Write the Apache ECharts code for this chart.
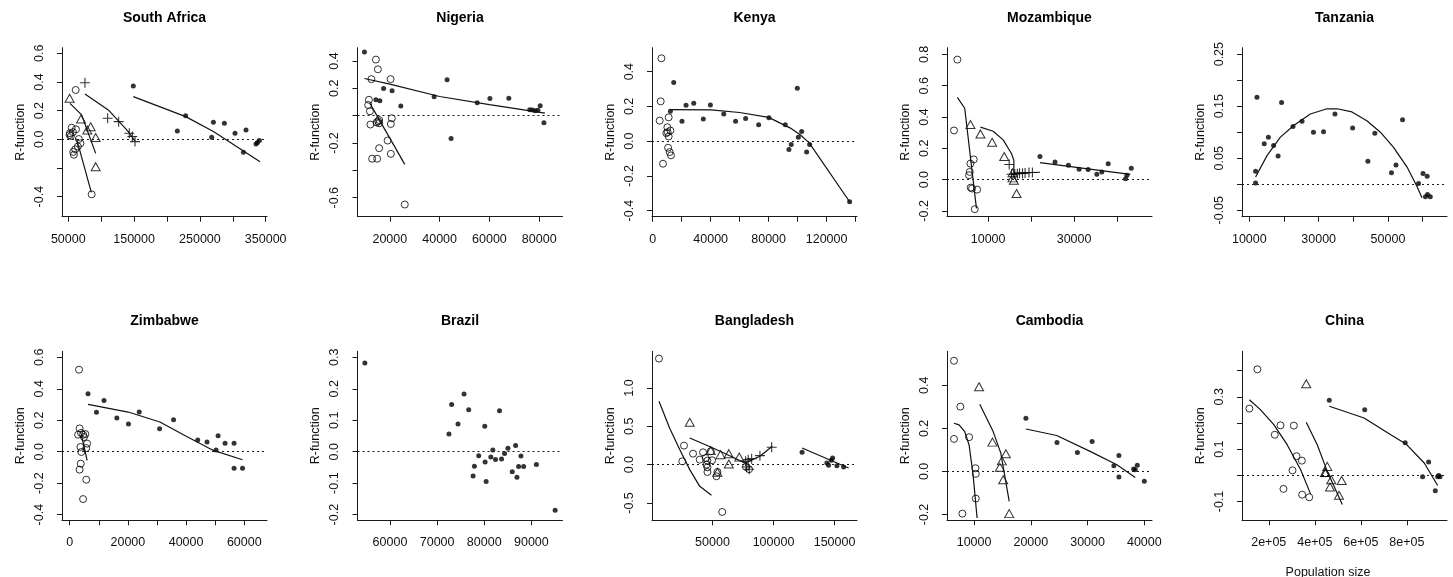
<!DOCTYPE html>
<html>
<head>
<meta charset="utf-8">
<script src="https://cdn.jsdelivr.net/npm/echarts@6/dist/echarts.min.js"></script>
<style>
html,body{margin:0;padding:0;background:#fff;}
#chart{width:1453px;height:577px;}
</style>
</head>
<body>
<div id="chart"></div>
<script>
// R-function against population size, one panel per country
// filled = dots, open = circles, tri = triangles, plus = crosses, *Line = fitted curves

// South Africa
var saFilled = [[148800,0.372],[215700,0.058],[228400,0.165],[267900,0.014],[270500,0.119],[287200,0.112],[303400,0.042],[316100,-0.091],[320100,0.065],[335300,-0.033],[337400,-0.023],[340400,-0.009]];
var saFilledLine = [[148800,0.298],[228400,0.158],[270500,0.055],[341400,-0.156]];
var saOpen = [[61200,0.344],[55100,0.081],[61700,0.070],[52500,0.042],[54000,0.023],[52000,0.030],[57000,0.050],[66000,0.002],[68500,-0.028],[64500,-0.050],[60500,-0.070],[57500,-0.088],[58500,-0.108],[85500,-0.384]];
var saOpenLine = [[62500,0.005],[85000,-0.370]];
var saTri = [[52000,0.286],[69300,0.142],[84000,0.088],[78900,0.065],[91600,0.012],[91600,-0.191]];
var saTriLine = [[52500,0.251],[70300,0.170],[91600,-0.098]];
var saPlus = [[75300,0.395],[109800,0.147],[126500,0.123],[142700,0.042],[147300,0.019],[151400,-0.016]];
var saPlusLine = [[75300,0.316],[110800,0.205],[141200,0.053],[151400,-0.012]];

// Nigeria
var ngFilled = [[9800,0.465],[17500,0.199],[20900,0.182],[14400,0.116],[16000,0.109],[24400,0.070],[37800,0.138],[43000,0.262],[44600,-0.167],[55100,0.095],[60200,0.126],[67800,0.128],[76200,0.044],[77300,0.041],[78400,0.036],[79500,0.039],[80400,0.073],[81900,-0.051]];
var ngFilledLine = [[9800,0.272],[20000,0.230],[40000,0.140],[60000,0.080],[82300,0.019]];
var ngOpen = [[14400,0.410],[15200,0.339],[12600,0.267],[20300,0.267],[11600,0.116],[11300,0.078],[12000,0.032],[12200,-0.065],[20800,-0.019],[20400,-0.061],[15700,-0.032],[15300,-0.041],[15700,-0.056],[14700,-0.050],[19100,-0.182],[15700,-0.238],[20400,-0.279],[12900,-0.315],[14900,-0.315],[26000,-0.650]];
var ngOpenLine = [[12000,0.090],[26000,-0.356]];

// Kenya
var keFilled = [[14500,0.338],[12200,0.172],[20200,0.115],[23000,0.206],[28300,0.218],[34900,0.128],[39800,0.208],[49000,0.157],[57200,0.115],[64100,0.130],[73100,0.094],[80200,0.134],[91500,0.094],[94000,-0.048],[95600,-0.019],[99800,0.305],[100500,0.023],[102800,0.055],[106200,-0.063],[108300,-0.019],[135900,-0.349]];
var keFilledLine = [[12200,0.181],[40000,0.180],[60000,0.165],[80000,0.137],[95000,0.075],[102000,0.035],[108000,-0.010],[135900,-0.349]];
var keOpen = [[6000,0.477],[5500,0.229],[4800,0.118],[7100,-0.130],[11000,0.137],[10100,0.080],[9400,0.046],[10300,0.052],[12200,0.061],[11000,0.027],[10600,-0.038],[11700,-0.063],[12600,-0.082]];

// Mozambique
var mzFilled = [[22060,0.148],[25560,0.112],[28680,0.091],[31170,0.066],[33270,0.064],[35290,0.034],[36460,0.049],[37940,0.102],[41980,0.006],[42300,0.028],[43310,0.072]];
var mzFilledLine = [[22060,0.108],[43070,0.034]];
var mzOpen = [[2840,0.767],[2060,0.314],[5880,0.102],[5720,0.049],[5560,0.028],[6650,0.129],[5950,-0.051],[6270,-0.057],[7430,-0.064],[6890,-0.189]];
var mzOpenLine = [[2840,0.525],[4550,0.456],[7280,-0.184]];
var mzTri = [[5880,0.352],[8210,0.292],[10930,0.239],[13740,0.148],[15680,0.044],[15990,-0.004],[15680,0.011],[16620,-0.089]];
var mzTriLine = [[8210,0.335],[11170,0.309],[13500,0.254],[15450,0.165],[15990,0.123],[15990,0.030]];
var mzPlus = [[14900,0.097],[15450,0.034],[16200,0.036],[16800,0.038],[17300,0.040],[18000,0.040],[18600,0.042],[19500,0.045],[20300,0.045]];
var mzPlusLine = [[15990,0.042],[22060,0.047]];

// Tanzania
var tzFilled = [[12200,0.167],[11800,0.0248],[11800,0.0025],[14300,0.0777],[15500,0.0904],[17000,0.0745],[18300,0.0541],[19300,0.157],[22600,0.111],[25200,0.121],[28500,0.100],[31400,0.101],[34700,0.135],[39800,0.108],[44200,0.044],[46200,0.098],[51000,0.0223],[52300,0.037],[54200,0.124],[58800,0.0013],[60100,0.0204],[60800,-0.0242],[61300,0.0153],[61400,-0.0197],[62200,-0.0242]];
var tzFilledLine = [[11800,0.014],[15100,0.055],[18900,0.090],[22800,0.113],[27600,0.135],[32400,0.145],[35300,0.145],[39600,0.139],[43900,0.122],[47800,0.100],[51600,0.071],[55500,0.033],[58400,-0.005],[59800,-0.026]];

// Zimbabwe
var zwFilled = [[6300,0.369],[11800,0.326],[9200,0.250],[16200,0.214],[20200,0.176],[23900,0.252],[30900,0.146],[35700,0.203],[44000,0.074],[47200,0.061],[50300,0.011],[51000,0.102],[53400,0.053],[56500,0.053],[56500,-0.106],[59400,-0.106]];
var zwFilledLine = [[6300,0.301],[20100,0.252],[31000,0.189],[40200,0.097],[49400,0.008],[59400,-0.051]];
var zwOpen = [[3200,0.521],[3400,0.148],[2900,0.108],[3900,0.119],[4600,0.108],[5400,0.112],[4900,0.093],[3700,0.030],[6000,0.051],[5700,0.023],[4000,-0.002],[3800,-0.076],[3400,-0.114],[5700,-0.178],[4600,-0.301]];
var zwOpenLine = [[4000,0.108],[6000,-0.055]];

// Brazil
var brFilled = [[54670,0.282],[72510,0.056],[73080,0.150],[74430,0.088],[75710,0.183],[76700,0.133],[77630,-0.077],[77910,-0.046],[78830,-0.013],[80110,0.081],[80180,-0.033],[80400,-0.095],[81390,-0.017],[81820,0.005],[82390,-0.025],[83240,0.130],[83670,-0.023],[84310,-0.006],[85020,0.011],[85940,-0.064],[86650,0.020],[86940,-0.081],[87290,-0.047],[87790,-0.014],[88360,-0.047],[91060,-0.041],[95040,-0.186]];

// Bangladesh
var bdFilled = [[123400,0.161],[143700,0.022],[145100,-0.009],[147300,0.057],[148400,0.087],[151900,-0.013],[157400,-0.030]];
var bdFilledLine = [[123400,0.217],[161500,-0.043]];
var bdOpen = [[6200,1.383],[26700,0.248],[25300,0.043],[34100,0.143],[39600,0.065],[42300,0.161],[44500,0.087],[45900,0.052],[45100,0.000],[45900,-0.035],[45900,-0.096],[49700,0.057],[48600,0.174],[53300,-0.152],[54100,-0.096],[58000,-0.617],[77500,-0.030],[80000,-0.060]];
var bdOpenLine = [[6200,0.826],[14900,0.478],[23200,0.196],[31400,-0.065],[39600,-0.283],[49200,-0.400]];
var bdTri = [[31400,0.552],[48600,0.183],[56600,0.130],[63400,0.143],[63400,0.009],[71900,0.100],[54100,-0.100]];
var bdTriLine = [[31400,0.348],[50000,0.220],[65000,0.110],[78000,0.010]];
var bdPlus = [[77100,0.043],[79300,0.065],[82100,0.078],[88900,0.117],[98500,0.226],[78000,-0.030],[80100,-0.060]];
var bdPlusLine = [[76600,0.022],[88900,0.109],[99000,0.239]];

// Cambodia
var khFilled = [[19130,0.247],[24610,0.134],[28210,0.088],[30800,0.139],[34630,0.026],[35520,0.074],[35520,-0.026],[38110,0.011],[38410,0.008],[38760,0.029],[40000,-0.046]];
var khFilledLine = [[19130,0.197],[24560,0.167],[30450,0.093],[35160,0.031],[38410,-0.028]];
var khOpen = [[6460,0.514],[7580,0.301],[6460,0.151],[9120,0.159],[10240,0.015],[10300,-0.011],[10300,-0.126],[7940,-0.196]];
var khOpenLine = [[6460,0.224],[7350,0.216],[8350,0.185],[9120,0.123],[9820,-0.015],[10530,-0.216]];
var khTri = [[10880,0.393],[13240,0.136],[14890,0.049],[14540,0.019],[15600,0.082],[15130,-0.039],[16190,-0.196]];
var khTriLine = [[11000,0.312],[13360,0.185],[14710,0.085],[16190,-0.139]];

// China
var cnFilled = [[462900,0.287],[616800,0.251],[792600,0.124],[868100,-0.006],[894200,0.051],[923300,-0.059],[933500,-0.006],[937800,-0.001],[943600,-0.006]];
var cnFilledLine = [[462900,0.264],[613900,0.219],[730100,0.155],[795500,0.120],[875400,0.047],[933500,-0.039]];
var cnOpen = [[115800,0.255],[150600,0.405],[226100,0.155],[250800,0.191],[308900,0.190],[320600,0.073],[343800,0.056],[303100,0.019],[263900,-0.052],[345200,-0.074],[375700,-0.084]];
var cnOpenLine = [[115800,0.289],[163700,0.251],[221800,0.194],[279900,0.117],[338000,0.022],[381600,-0.071]];
var cnTri = [[362700,0.350],[454200,0.034],[444000,0.011],[448000,0.011],[471600,-0.017],[465800,-0.045],[516600,-0.020],[505000,-0.076]];
var cnTriLine = [[362700,0.203],[410600,0.117],[454200,0.015],[519500,-0.112]];

// tick positions and labelled ticks
var saXTicks = [50000,100000,150000,200000,250000,300000,350000], saXLabels = [50000,150000,250000,350000];
var saYTicks = [-0.4,-0.2,0,0.2,0.4,0.6], saYLabels = [-0.4,0,0.2,0.4,0.6];
var ngXTicks = [20000,40000,60000,80000], ngXLabels = [20000,40000,60000,80000];
var ngYTicks = [-0.6,-0.4,-0.2,0,0.2,0.4], ngYLabels = [-0.6,-0.2,0.2,0.4];
var keXTicks = [0,20000,40000,60000,80000,100000,120000,140000], keXLabels = [0,40000,80000,120000];
var keYTicks = [-0.4,-0.2,0,0.2,0.4], keYLabels = [-0.4,-0.2,0,0.2,0.4];
var mzXTicks = [10000,20000,30000,40000], mzXLabels = [10000,30000];
var mzYTicks = [-0.2,0,0.2,0.4,0.6,0.8], mzYLabels = [-0.2,0,0.2,0.4,0.6,0.8];
var tzXTicks = [10000,20000,30000,40000,50000,60000], tzXLabels = [10000,30000,50000];
var tzYTicks = [-0.05,0,0.05,0.1,0.15,0.2,0.25], tzYLabels = [-0.05,0.05,0.15,0.25];
var zwXTicks = [0,10000,20000,30000,40000,50000,60000], zwXLabels = [0,20000,40000,60000];
var zwYTicks = [-0.4,-0.2,0,0.2,0.4,0.6], zwYLabels = [-0.4,-0.2,0,0.2,0.4,0.6];
var brXTicks = [60000,70000,80000,90000], brXLabels = [60000,70000,80000,90000];
var brYTicks = [-0.2,-0.1,0,0.1,0.2,0.3], brYLabels = [-0.2,-0.1,0,0.1,0.2,0.3];
var bdXTicks = [50000,100000,150000], bdXLabels = [50000,100000,150000];
var bdYTicks = [-0.5,0,0.5,1.0], bdYLabels = [-0.5,0,0.5,1.0];
var khXTicks = [10000,20000,30000,40000], khXLabels = [10000,20000,30000,40000];
var khYTicks = [-0.2,0,0.2,0.4], khYLabels = [-0.2,0,0.2,0.4];
var cnXTicks = [200000,400000,600000,800000], cnXLabels = [200000,400000,600000,800000];
var cnYTicks = [-0.1,0,0.1,0.2,0.3,0.4], cnYLabels = [-0.1,0.1,0.3];

var panels = [
    {name:'South Africa', filled:saFilled, open:saOpen, tri:saTri, plus:saPlus, lines:[saFilledLine,saOpenLine,saTriLine,saPlusLine], x:[40426,351976], y:[-0.540,0.639], xt:saXTicks, xl:saXLabels, yt:saYTicks, yl:saYLabels, dec:1},
    {name:'Nigeria', filled:ngFilled, open:ngOpen, lines:[ngFilledLine,ngOpenLine], x:[7011,89360], y:[-0.739,0.497], xt:ngXTicks, xl:ngXLabels, yt:ngYTicks, yl:ngYLabels, dec:1},
    {name:'Kenya', filled:keFilled, open:keOpen, lines:[keFilledLine], x:[-500,140990], y:[-0.435,0.538], xt:keXTicks, xl:keXLabels, yt:keYTicks, yl:keYLabels, dec:1},
    {name:'Mozambique', filled:mzFilled, open:mzOpen, tri:mzTri, plus:mzPlus, lines:[mzFilledLine,mzOpenLine,mzTriLine,mzPlusLine], x:[428,48132], y:[-0.237,0.843], xt:mzXTicks, xl:mzXLabels, yt:mzYTicks, yl:mzYLabels, dec:1},
    {name:'Tanzania', filled:tzFilled, lines:[tzFilledLine], x:[7885,67019], y:[-0.0624,0.2624], xt:tzXTicks, xl:tzXLabels, yt:tzYTicks, yl:tzYLabels, dec:2},
    {name:'Zimbabwe', filled:zwFilled, open:zwOpen, lines:[zwFilledLine,zwOpenLine], x:[-2644,67816], y:[-0.436,0.638], xt:zwXTicks, xl:zwXLabels, yt:zwYTicks, yl:zwYLabels, dec:1},
    {name:'Brazil', filled:brFilled, lines:[], x:[53106,96602], y:[-0.218,0.319], xt:brXTicks, xl:brXLabels, yt:brYTicks, yl:brYLabels, dec:1},
    {name:'Bangladesh', filled:bdFilled, open:bdOpen, tri:bdTri, plus:bdPlus, lines:[bdFilledLine,bdOpenLine,bdTriLine,bdPlusLine], x:[500,168370], y:[-0.726,1.478], xt:bdXTicks, xl:bdXLabels, yt:bdYTicks, yl:bdYLabels, dec:1},
    {name:'Cambodia', filled:khFilled, open:khOpen, tri:khTri, lines:[khFilledLine,khOpenLine,khTriLine], x:[5227,41351], y:[-0.227,0.558], xt:khXTicks, xl:khXLabels, yt:khYTicks, yl:khYLabels, dec:1},
    {name:'China', filled:cnFilled, open:cnOpen, tri:cnTri, lines:[cnFilledLine,cnOpenLine,cnTriLine], x:[83808,974129], y:[-0.172,0.474], xt:cnXTicks, xl:cnXLabels, yt:cnYTicks, yl:cnYLabels, dec:1, sci:true}
];

var FONT = '"Liberation Sans", Arial, sans-serif';
var INK = '#1a1a1a';
var LEFTS = [62, 357.5, 652, 947, 1242];
var TOPS = [47.7, 351.3];
var PW = 205, PH = 169;
var PLUS = 'path://M0,4.45H10V5.55H0Z M4.45,0H5.55V10H4.45Z';

var grids = [], xAxes = [], yAxes = [], series = [], titles = [];

panels.forEach(function(p, i){
    var left = LEFTS[i % 5], top = TOPS[Math.floor(i / 5)];
    grids.push({left:left, top:top, width:PW, height:PH});
    titles.push({
        text:p.name, left:left + PW / 2, top:top - 37, textAlign:'center', padding:0,
        textStyle:{fontFamily:FONT, fontSize:14, fontWeight:'bold', color:'#000'}
    });
    xAxes.push({
        type:'value', gridIndex:i, min:p.x[0], max:p.x[1],
        axisLine:{onZero:false, lineStyle:{color:INK, width:1}},
        axisTick:{customValues:p.xt, length:5, lineStyle:{color:INK}},
        axisLabel:{
            customValues:p.xl, margin:16, fontFamily:FONT, fontSize:12.5, color:'#111',
            formatter:function(v){ return p.sci ? (v / 1e5) + 'e+05' : String(Math.round(v)); }
        },
        splitLine:{show:false}
    });
    yAxes.push({
        type:'value', gridIndex:i, min:p.y[0], max:p.y[1],
        name:'R-function', nameLocation:'middle', nameRotate:90, nameGap:35,
        nameTextStyle:{fontFamily:FONT, fontSize:12.5, color:'#111'},
        axisLine:{onZero:false, lineStyle:{color:INK, width:1}},
        axisTick:{customValues:p.yt, length:5, lineStyle:{color:INK}},
        axisLabel:{
            customValues:p.yl, margin:16, rotate:90, fontFamily:FONT, fontSize:12.5, color:'#111',
            formatter:function(v){ return v.toFixed(p.dec); }
        },
        splitLine:{show:false}
    });

    p.lines.forEach(function(l){
        series.push({type:'line', xAxisIndex:i, yAxisIndex:i, data:l, symbol:'none',
            lineStyle:{color:'#111', width:1.2}, silent:true});
    });
    series.push({
        type:'scatter', xAxisIndex:i, yAxisIndex:i, data:p.filled, symbol:'circle', symbolSize:5,
        itemStyle:{color:'#000'},
        markLine:{silent:true, symbol:'none', label:{show:false},
            lineStyle:{color:INK, type:[2,3], width:1}, data:[{yAxis:0}]}
    });
    if (p.open) series.push({type:'scatter', xAxisIndex:i, yAxisIndex:i, data:p.open, symbol:'circle', symbolSize:7,
        itemStyle:{color:'rgba(0,0,0,0)', borderColor:'#000', borderWidth:1}});
    if (p.tri) series.push({type:'scatter', xAxisIndex:i, yAxisIndex:i, data:p.tri, symbol:'triangle', symbolSize:[9,8],
        itemStyle:{color:'rgba(0,0,0,0)', borderColor:'#000', borderWidth:1}});
    if (p.plus) series.push({type:'scatter', xAxisIndex:i, yAxisIndex:i, data:p.plus, symbol:PLUS, symbolSize:10,
        itemStyle:{color:'#000'}});
});

titles.push({text:'Population size', left:1328, top:566, textAlign:'center', padding:0,
    textStyle:{fontFamily:FONT, fontSize:12.5, fontWeight:'normal', color:'#111'}});

var chart = echarts.init(document.getElementById('chart'));
chart.setOption({
    animation:false,
    backgroundColor:'#fff',
    title:titles,
    grid:grids,
    xAxis:xAxes,
    yAxis:yAxes,
    series:series
});
</script>
</body>
</html>
